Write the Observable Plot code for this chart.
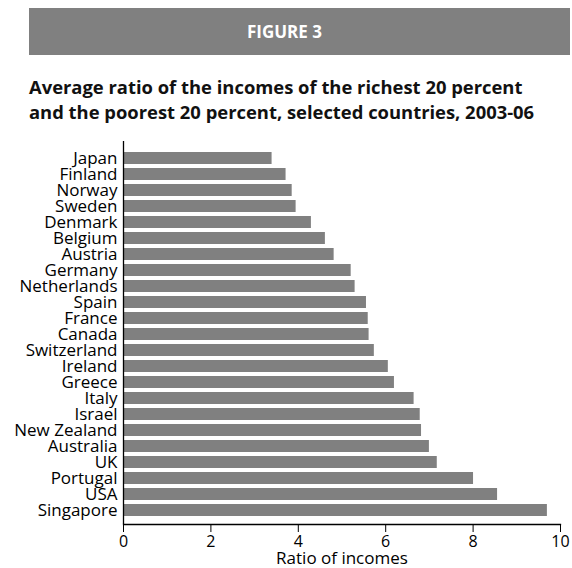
<!DOCTYPE html>
<html><head><meta charset="utf-8">
<script src="https://cdn.jsdelivr.net/npm/d3@7"></script>
<script src="https://cdn.jsdelivr.net/npm/@observablehq/plot@0.6"></script>
<style>
body{margin:0;background:#fff;}
#wrap{position:relative;width:572px;height:568px;font-family:"Open Sans",sans-serif;color:#111;}
#banner{position:absolute;left:29px;top:8px;width:541px;height:47px;background:#808080;color:#fff;font-weight:bold;font-size:17px;line-height:47px;}
#banner span{position:absolute;left:218px;top:0;}
#title{position:absolute;left:29px;top:74px;font-weight:bold;font-size:18.4px;line-height:25px;white-space:nowrap;}
#chart{position:absolute;left:0;top:130px;}
</style></head>
<body>
<div id="wrap">
  <div id="banner"><span>FIGURE 3</span></div>
  <div id="title">Average ratio of the incomes of the richest 20 percent<br>and the poorest 20 percent, selected countries, 2003-06</div>
  <div id="chart"></div>
</div>
<script>
const countries = ["Japan","Finland","Norway","Sweden","Denmark","Belgium","Austria","Germany","Netherlands","Spain","France","Canada","Switzerland","Ireland","Greece","Italy","Israel","New Zealand","Australia","UK","Portugal","USA","Singapore"];
const ratios = [3.40,3.72,3.86,3.95,4.30,4.62,4.82,5.21,5.30,5.56,5.60,5.62,5.74,6.06,6.20,6.65,6.79,6.82,7.00,7.18,8.01,8.56,9.70];
const xTicks = [0,2,4,6,8,10];
const xLabel = "Ratio of incomes";

const data = countries.map((c,i)=>({country:c, value:ratios[i]}));

const chart = Plot.plot({
  width:572, height:438,
  marginLeft:123, marginRight:12, marginTop:11, marginBottom:44,
  style:{fontFamily:"'Open Sans', sans-serif", fontSize:"16px", color:"#000", background:"#fff"},
  x:{domain:[0,10]},
  y:{domain:countries, paddingInner:0.24, paddingOuter:0.1, align:0.6},
  marks:[
    Plot.barX(data,{x:"value", y:"country", fill:"#808080"}),
    Plot.ruleX([0],{stroke:"#000", strokeWidth:1.3}),
    Plot.frame({anchor:"bottom", stroke:"#000", strokeWidth:1.3}),
    Plot.axisX({ticks:xTicks, tickSize:8, tickPadding:3, stroke:"#000", fontSize:16, label:null}),
    Plot.axisX({ticks:[], tickSize:0, fontSize:17, label:xLabel, labelAnchor:"center", labelArrow:"none", labelOffset:39}),
    Plot.axisY({tickSize:0, tickPadding:6, fontSize:17, label:null})
  ]
});
document.getElementById("chart").appendChild(chart);
</script>
</body></html>
